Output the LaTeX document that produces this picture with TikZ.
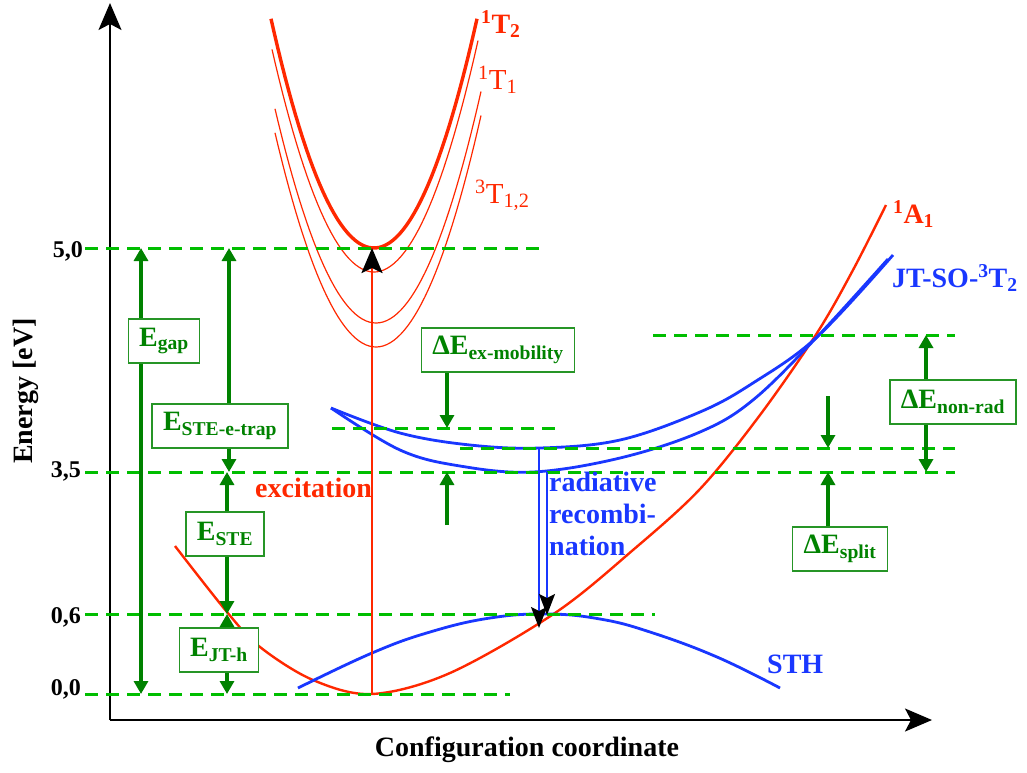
\documentclass[tikz,border=0pt]{standalone}
\usepackage{fontspec}
\setmainfont{Liberation Serif}
\usepackage{tikz}
\usetikzlibrary{arrows.meta, positioning, calc}

\definecolor{exred}{RGB}{255,40,0}
\definecolor{exblue}{RGB}{25,55,255}
\definecolor{lvlgreen}{RGB}{0,190,0}
\definecolor{boxgreen}{RGB}{0,130,0}

\begin{document}
\begin{tikzpicture}[x=1pt, y=-1pt,
  font=\fontsize{28}{30}\selectfont\bfseries,
  >={Triangle[length=13pt,width=14pt]},
  lvl/.style={lvlgreen, line width=3pt, dash pattern=on 13pt off 8pt},
  garrow/.style={boxgreen, line width=3.2pt},
  ebox/.style={draw=boxgreen!85!white, line width=1.3pt, fill=white, text=boxgreen,
    inner xsep=11pt, inner ysep=3pt, minimum height=44pt},
  lbl/.style={inner sep=0pt},
  bigtip/.style={-{Stealth[length=27pt,width=23pt,inset=6pt]}}]
  \useasboundingbox (0,0) rectangle (1027,772);

  % Axes
  \coordinate (origin) at (110,720);
  \coordinate (yend) at (110,3);
  \coordinate (xend) at (932,720);
  \draw[line width=1.8pt, bigtip] (origin) -- (yend);
  \draw[line width=1.8pt, bigtip] (origin) -- (xend);
  \node[lbl, rotate=90] (ylabel) at (26,391) {Energy [eV]};
  \node[lbl, anchor=base] (xlabel) at (527,756) {Configuration coordinate};

  % Ground state 1A1
  \draw[exred, line width=2.4pt] plot[smooth, tension=0.55] coordinates
    {(175,546) (227,612) (260,647) (313,680) (372,694) (450,673) (555,613) (633,550)
     (700,489) (760,415) (817,333) (853,270) (886,205)};
  \node[lbl, anchor=base west, exred] (A1) at (893,223) {\textsuperscript{1}A\textsubscript{1}};

  % Excited singlet/triplet states
  \draw[exred, line width=3.4pt, domain=-103:103, samples=60] plot ({374+\x},{248-0.0216*\x*\x});
  \draw[exred, line width=1.2pt, domain=-102:104, samples=60] plot ({374+\x},{272-0.0214*\x*\x});
  \draw[exred, line width=1.2pt, domain=-101:105, samples=60] plot ({376+\x},{323-0.0210*\x*\x});
  \draw[exred, line width=1.2pt, domain=-101:105, samples=60] plot ({376+\x},{347-0.0210*\x*\x});
  \node[lbl, anchor=base west, exred] (T2) at (481,33) {\textsuperscript{1}T\textsubscript{2}};
  \node[lbl, anchor=base west, exred, font=\fontsize{29}{30}\selectfont\mdseries] (T1) at (478,89) {\textsuperscript{1}T\textsubscript{1}};
  \node[lbl, anchor=base west, exred, font=\fontsize{29}{30}\selectfont\mdseries] (T12) at (475,203) {\textsuperscript{3}T\textsubscript{1,2}};

  % Self-trapped exciton JT-SO-3T2
  \draw[exblue, line width=2.8pt] plot[smooth, tension=0.6] coordinates
    {(331,408) (400,433) (470,445) (540,448) (620,440) (700,412) (753,383) (817,337) (893,255)};
  \draw[exblue, line width=2.8pt] plot[smooth, tension=0.6] coordinates
    {(331,408) (400,450) (460,466) (533,472) (620,458) (700,432) (753,400) (817,337) (888,259)};
  \node[lbl, anchor=base west, exblue] (JT) at (892,287) {JT-SO-\textsuperscript{3}T\textsubscript{2}};

  % Self-trapped hole
  \draw[exblue, line width=2.8pt] plot[smooth, tension=0.7] coordinates
    {(298,688) (372,653) (430,632) (490,618) (547,614) (600,619) (650,632) (717,657) (780,688)};
  \node[lbl, anchor=base west, exblue] (STH) at (767,673) {STH};

  % Energy levels
  \draw[lvl] (85,248) -- (545,248);
  \draw[lvl] (85,472) -- (955,472);
  \draw[lvl] (85,614) -- (655,614);
  \draw[lvl] (85,694) -- (510,694);
  \draw[lvl] (332,428) -- (555,428);
  \draw[lvl] (460,448) -- (955,448);
  \draw[lvl] (653,335) -- (955,335);
  \node[lbl, anchor=base east, font=\fontsize{24}{26}\selectfont\bfseries] (e50) at (83,257) {5,0};
  \node[lbl, anchor=base east, font=\fontsize{24}{26}\selectfont\bfseries] (e35) at (81,477) {3,5};
  \node[lbl, anchor=base east, font=\fontsize{24}{26}\selectfont\bfseries] (e06) at (81,623) {0,6};
  \node[lbl, anchor=base east, font=\fontsize{24}{26}\selectfont\bfseries] (e00) at (81,695) {0,0};

  % Excitation
  \coordinate (gsMin) at (372,694);
  \coordinate (exMin) at (372,248);
  \draw[exred, line width=2.6pt, -{Stealth[length=25pt,width=21pt,inset=5pt,black]}] (gsMin) -- (exMin);
  \node[lbl, anchor=base west, exred] (excit) at (255,497) {excitation};

  % Radiative recombination
  \coordinate (radA) at (539,448);
  \coordinate (radAend) at (539,628);
  \coordinate (radB) at (547,472);
  \coordinate (radBend) at (547,615);
  \draw[exblue, line width=1.6pt, -{Stealth[length=21pt,width=16pt,inset=4pt,black]}] (radA) -- (radAend);
  \draw[exblue, line width=1.6pt, -{Stealth[length=21pt,width=16pt,inset=4pt,black]}] (radB) -- (radBend);
  \node[lbl, anchor=north west, align=left, exblue, font=\fontsize{28}{32}\selectfont\bfseries] (radrec) at (549,472) {radiative\\recombi-\\nation};

  % E_gap
  \coordinate (gapTop) at (141,248);
  \coordinate (gapBot) at (141,694);
  \draw[garrow, <->] (gapBot) -- (gapTop);
  \node[ebox] (Egap) at (164,341) {E\textsubscript{gap}};

  % E_STE-e-trap
  \node[ebox] (Etrap) at (220,426) {E\textsubscript{STE-e-trap}};
  \coordinate (trapTop) at (229,248);
  \coordinate (trapBot) at (229,472);
  \draw[garrow, ->] (Etrap.north -| trapTop) -- (trapTop);
  \draw[garrow, ->] (Etrap.south -| trapBot) -- (trapBot);

  % E_STE
  \node[ebox] (Este) at (225,534) {E\textsubscript{STE}};
  \coordinate (steTop) at (227,472);
  \coordinate (steBot) at (227,614);
  \draw[garrow, ->] (Este.north -| steTop) -- (steTop);
  \draw[garrow, ->] (Este.south -| steBot) -- (steBot);

  % E_JT-h
  \node[ebox] (Ejth) at (219,650) {E\textsubscript{JT-h}};
  \coordinate (jthTop) at (227,614);
  \coordinate (jthBot) at (227,694);
  \draw[garrow, ->] (Ejth.north -| jthTop) -- (jthTop);
  \draw[garrow, ->] (Ejth.south -| jthBot) -- (jthBot);

  % Delta E ex-mobility
  \node[ebox] (Emob) at (498,350) {ΔE\textsubscript{ex-mobility}};
  \coordinate (mobTop) at (447,428);
  \coordinate (mobTail) at (447,525);
  \coordinate (mobBot) at (447,472);
  \draw[garrow, ->] (Emob.south -| mobTop) -- (mobTop);
  \draw[garrow, ->] (mobTail) -- (mobBot);

  % Delta E non-rad
  \node[ebox] (Enonrad) at (953,402) {ΔE\textsubscript{non-rad}};
  \coordinate (nrTop) at (926,335);
  \coordinate (nrBot) at (926,472);
  \draw[garrow, ->] (Enonrad.north -| nrTop) -- (nrTop);
  \draw[garrow, ->] (Enonrad.south -| nrBot) -- (nrBot);

  % Delta E split
  \node[ebox] (Esplit) at (840,549) {ΔE\textsubscript{split}};
  \coordinate (splitTail) at (828,396);
  \coordinate (splitTop) at (828,448);
  \coordinate (splitBot) at (828,472);
  \draw[garrow, ->] (splitTail) -- (splitTop);
  \draw[garrow, ->] (Esplit.north -| splitBot) -- (splitBot);
\end{tikzpicture}
\end{document}
